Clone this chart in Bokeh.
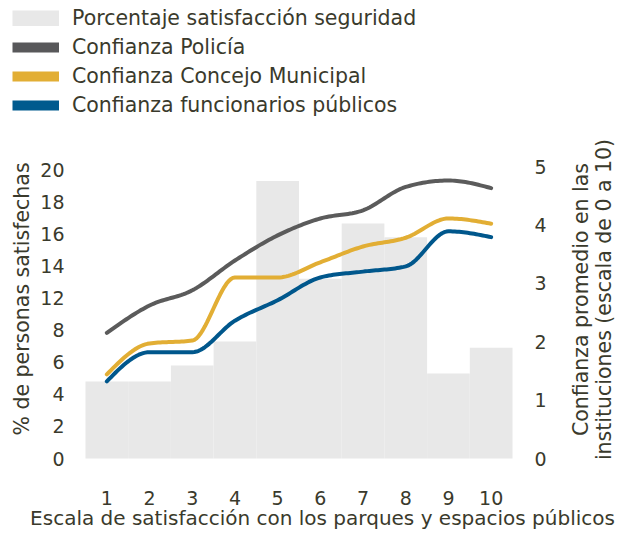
import math
from bokeh.plotting import figure
from bokeh.models import (Range1d, LinearAxis, Legend, LegendItem, Label,
                          FixedTicker)
from bokeh.embed import file_html
from bokeh.resources import INLINE

# ---- data ----
escala = [1, 2, 3, 4, 5, 6, 7, 8, 9, 10]
# bar heights in the left axis' plotted units (tick labels shown below)
satisf_seguridad = [4.8, 4.8, 5.8, 7.3, 17.3, 11.2, 14.65, 13.8, 5.3, 6.9]
conf_policia = [2.15, 2.62, 2.88, 3.39, 3.82, 4.11, 4.25, 4.65, 4.76, 4.63]
conf_concejo = [1.44, 1.97, 2.02, 3.10, 3.10, 3.36, 3.63, 3.78, 4.11, 4.02]
conf_funcionarios = [1.32, 1.82, 1.82, 2.36, 2.71, 3.10, 3.20, 3.29, 3.89, 3.79]
left_ticks = [0, 2, 4, 6, 8, 10, 12, 14, 16, 18]
left_tick_labels = ["0", "2", "4", "6", "8", "12", "14", "16", "18", "20"]
right_ticks = [0, 1, 2, 3, 4, 5]
series_names = ["Porcentaje satisfacción seguridad", "Confianza Policía",
                "Confianza Concejo Municipal", "Confianza funcionarios públicos"]
x_title = "Escala de satisfacción con los parques y espacios públicos"
y_title = "% de personas satisfechas"
y2_title = ["Confianza promedio en las", "instituciones (escala de 0 a 10)"]

FONT = "DejaVu Sans"
TXT = "#3a3a2c"
GRAY = "#5b5b5b"
YELLOW = "#e2ae34"
BLUE = "#00578c"
BAR = "#e8e8e8"

# ---- layout (pixels) ----
W, H = 618, 530
X0_PX, X1_PX = 85, 512          # where x = 0.5 and x = 10.5 fall
BASE_PX = 458                   # where y = 0 falls
L_UNIT = 16.04                  # px per unit, left axis
R_UNIT = 58.4                   # px per unit, right axis
x_unit = (X1_PX - X0_PX) / 10.0


def _sign(v):
    return (v > 0) - (v < 0)


def smooth(xs, ys, n=20):
    """Monotone cubic path through the data points (rendering only)."""
    m = len(xs)
    h = [xs[i + 1] - xs[i] for i in range(m - 1)]
    s = [(ys[i + 1] - ys[i]) / h[i] for i in range(m - 1)]
    t = [0.0] * m
    for i in range(1, m - 1):
        pp = (s[i - 1] * h[i] + s[i] * h[i - 1]) / (h[i - 1] + h[i])
        t[i] = (_sign(s[i - 1]) + _sign(s[i])) * min(
            abs(s[i - 1]), abs(s[i]), 0.5 * abs(pp))
    t[0] = (3 * s[0] - t[1]) / 2
    t[-1] = (3 * s[-1] - t[-2]) / 2
    ox, oy = [], []
    for i in range(m - 1):
        for k in range(n):
            u = k / n
            h00 = 2 * u ** 3 - 3 * u ** 2 + 1
            h10 = u ** 3 - 2 * u ** 2 + u
            h01 = -2 * u ** 3 + 3 * u ** 2
            h11 = u ** 3 - u ** 2
            ox.append(xs[i] + u * h[i])
            oy.append(h00 * ys[i] + h10 * h[i] * t[i] +
                      h01 * ys[i + 1] + h11 * h[i] * t[i + 1])
    ox.append(xs[-1])
    oy.append(ys[-1])
    return ox, oy


p = figure(width=W, height=H, output_backend="svg", toolbar_location=None,
           x_range=Range1d(0.5 - X0_PX / x_unit, 10.5 + (W - X1_PX) / x_unit),
           y_range=Range1d(-(H - BASE_PX) / L_UNIT, BASE_PX / L_UNIT),
           min_border=0, outline_line_color=None)
p.extra_y_ranges = {"conf": Range1d(-(H - BASE_PX) / R_UNIT, BASE_PX / R_UNIT)}
p.xgrid.visible = False
p.ygrid.visible = False
p.background_fill_color = "white"
p.border_fill_color = "white"

p.vbar(x=escala, top=satisf_seguridad, width=1.0, fill_color=BAR,
       line_color=None)

for ys, col in ((conf_policia, GRAY), (conf_concejo, YELLOW),
                (conf_funcionarios, BLUE)):
    sx, sy = smooth(escala, ys)
    p.line(sx, sy, line_color=col, line_width=4, y_range_name="conf",
           line_cap="round", line_join="round")


def style_axis(ax):
    ax.axis_line_color = None
    ax.major_tick_line_color = None
    ax.minor_tick_line_color = None
    ax.major_label_text_font = FONT
    ax.major_label_text_font_size = "19px"
    ax.major_label_text_color = TXT


xa = p.xaxis[0]
style_axis(xa)
xa.ticker = FixedTicker(ticks=escala)
xa.fixed_location = 0
xa.major_label_standoff = 26

ya = p.yaxis[0]
style_axis(ya)
ya.ticker = FixedTicker(ticks=left_ticks)
ya.major_label_overrides = {t: l for t, l in zip(left_ticks, left_tick_labels)}
ya.fixed_location = 0.5
ya.major_label_standoff = 15

ra = LinearAxis(y_range_name="conf", ticker=FixedTicker(ticks=right_ticks),
                fixed_location=10.5)
style_axis(ra)
ra.major_label_standoff = 16
p.add_layout(ra, "right")

# axis titles
common = dict(x_units="screen", y_units="screen", text_font=FONT,
              text_font_size="20.5px", text_color=TXT, text_align="center",
              text_baseline="alphabetic")
p.add_layout(Label(x=21, y=H - 298.5, angle=math.pi / 2, text=y_title,
                   **common))
p.add_layout(Label(x=580, y=H - 299, angle=math.pi / 2, text=y2_title[0],
                   **common))
p.add_layout(Label(x=603, y=H - 299, angle=math.pi / 2, text=y2_title[1],
                   **common))
p.add_layout(Label(x=322, y=H - 517, text=x_title, **dict(
    common, text_font_size="20px")))

# legend (swatch-only renderers with no visible data)
nan = float("nan")
d_bar = p.line([nan, nan], [nan, nan], line_color=BAR, line_width=16,
               line_cap="butt")
d_pol = p.line([nan, nan], [nan, nan], line_color="#58585a", line_width=10,
               line_cap="butt")
d_con = p.line([nan, nan], [nan, nan], line_color=YELLOW, line_width=10,
               line_cap="butt")
d_fun = p.line([nan, nan], [nan, nan], line_color="#005a8e", line_width=10,
               line_cap="butt")
legend = Legend(items=[
    LegendItem(label=series_names[0], renderers=[d_bar]),
    LegendItem(label=series_names[1], renderers=[d_pol]),
    LegendItem(label=series_names[2], renderers=[d_con]),
    LegendItem(label=series_names[3], renderers=[d_fun]),
], location=(12, H - 117), glyph_width=47, glyph_height=16, label_standoff=13,
    padding=0, margin=0, spacing=5, label_height=23, label_text_font=FONT,
    label_text_font_size="20.5px", label_text_color=TXT,
    background_fill_alpha=0, border_line_alpha=0)
p.add_layout(legend)

open("out.html", "w").write(file_html(p, INLINE))
